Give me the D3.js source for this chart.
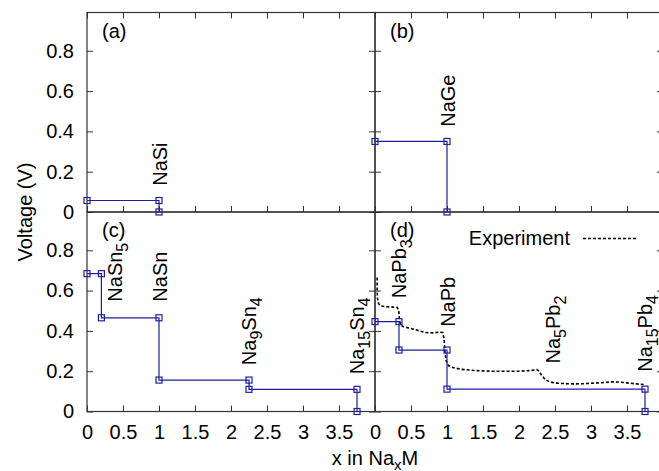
<!DOCTYPE html>
<html>
<head>
<meta charset="utf-8">
<script src="https://cdn.jsdelivr.net/npm/d3@7"></script>
<style>
  html, body { margin: 0; padding: 0; background: #fff; }
  svg { display: block; }
  text { font-family: "Liberation Sans", Arial, Helvetica, sans-serif; fill: #000; }
</style>
</head>
<body>
<svg id="chart" width="659" height="471"></svg>
<script>
// ---------------- data ----------------
const xTickValues = [0, 0.5, 1, 1.5, 2, 2.5, 3, 3.5];
const yTickValues = [0, 0.2, 0.4, 0.6, 0.8];
const xDomain = [0, 4];
const yDomain = [0, 0.99];

// (a) Na-Si
const siX = [0, 1, 1];
const siV = [0.057, 0.057, 0];
// (b) Na-Ge
const geX = [0, 1, 1];
const geV = [0.35, 0.35, 0];
// (c) Na-Sn
const snX = [0, 0.2, 0.2, 1, 1, 2.25, 2.25, 3.75, 3.75];
const snV = [0.684, 0.684, 0.465, 0.465, 0.156, 0.156, 0.11, 0.11, 0];
// (d) Na-Pb
const pbX = [0, 0.333, 0.333, 1, 1, 3.75, 3.75];
const pbV = [0.446, 0.446, 0.305, 0.305, 0.111, 0.111, 0];
// (d) experiment
const expX = [0.03, 0.03, 0.035, 0.05, 0.08, 0.15, 0.25, 0.31, 0.33, 0.34, 0.36, 0.4, 0.5, 0.6, 0.7, 0.8, 0.9, 0.94, 0.96, 0.97, 0.99, 1.02, 1.08, 1.2, 1.4, 1.6, 1.8, 2.0, 2.15, 2.25, 2.28, 2.31, 2.36, 2.42, 2.5, 2.6, 2.75, 2.9, 3.0, 3.15, 3.3, 3.4, 3.5, 3.6, 3.73];
const expV = [0.665, 0.6, 0.56, 0.535, 0.524, 0.52, 0.518, 0.516, 0.5, 0.45, 0.428, 0.42, 0.412, 0.402, 0.392, 0.39, 0.394, 0.392, 0.36, 0.3, 0.25, 0.228, 0.218, 0.209, 0.203, 0.2, 0.2, 0.2, 0.203, 0.208, 0.2, 0.182, 0.16, 0.148, 0.141, 0.139, 0.137, 0.138, 0.14, 0.143, 0.147, 0.146, 0.142, 0.138, 0.134];

// phase labels: text ("_" marks a subscript), x and voltage where the text starts
const siLabels = [{ t: "NaSi", x: 1.0, v: 0.13 }];
const geLabels = [{ t: "NaGe", x: 1.0, v: 0.423 }];
const snLabels = [
  { t: "NaSn_5", x: 0.38, v: 0.545 },
  { t: "NaSn", x: 1.0, v: 0.545 },
  { t: "Na_9Sn_4", x: 2.24, v: 0.23 },
  { t: "Na_15Sn_4", x: 3.74, v: 0.185 }
];
const pbLabels = [
  { t: "NaPb_3", x: 0.32, v: 0.562 },
  { t: "NaPb", x: 1.0, v: 0.42 },
  { t: "Na_5Pb_2", x: 2.47, v: 0.238 },
  { t: "Na_15Pb_4", x: 3.74, v: 0.197 }
];
const panelNames = ["(a)", "(b)", "(c)", "(d)"];
const legendText = "Experiment";
const xLabelMain = "x in Na";
const xLabelSub = "x";
const xLabelEnd = "M";
const yLabelText = "Voltage (V)";

// ---------------- layout ----------------
const L = 87, M = 375, R = 663;
const T = 12.5, MID = 212, B = 411.5;
const BLUE = "#1f1f9c";
const FRAME = "#333";

const svg = d3.select("#chart");

const panels = [
  { x0: L, x1: M, y0: T, y1: MID, xs: siX, vs: siV, labels: siLabels, name: panelNames[0], top: true, left: true },
  { x0: M, x1: R, y0: T, y1: MID, xs: geX, vs: geV, labels: geLabels, name: panelNames[1], top: true, left: false },
  { x0: L, x1: M, y0: MID, y1: B, xs: snX, vs: snV, labels: snLabels, name: panelNames[2], top: false, left: true },
  { x0: M, x1: R, y0: MID, y1: B, xs: pbX, vs: pbV, labels: pbLabels, name: panelNames[3], top: false, left: false, exp: true }
];

function addLabel(g, str, px, py) {
  const t = g.append("text")
    .attr("transform", `translate(${px},${py}) rotate(-90)`)
    .attr("font-size", 20)
    .attr("text-anchor", "start");
  const re = /([^_]+)|_(\d+)/g;
  let m, shifted = false;
  while ((m = re.exec(str)) !== null) {
    if (m[1]) {
      const s = t.append("tspan").text(m[1]);
      if (shifted) { s.attr("dy", -6); shifted = false; }
    } else {
      t.append("tspan").text(m[2]).attr("font-size", 16).attr("dy", 6);
      shifted = true;
    }
  }
}

panels.forEach(p => {
  const x = d3.scaleLinear().domain(xDomain).range([p.x0, p.x1]);
  const y = d3.scaleLinear().domain(yDomain).range([p.y1, p.y0]);
  const g = svg.append("g");

  // bottom axis (ticks inward)
  const bx = g.append("g").attr("transform", `translate(0,${p.y1})`)
    .call(d3.axisBottom(x).tickValues(xTickValues).tickSize(-6).tickPadding(13)
      .tickFormat(p.top ? "" : d3.format("")));
  // left axis
  const ly = g.append("g").attr("transform", `translate(${p.x0},0)`)
    .call(d3.axisLeft(y).tickValues(yTickValues).tickSize(-6).tickPadding(13)
      .tickFormat(p.left ? d3.format("") : ""));
  // right axis
  const ry = g.append("g").attr("transform", `translate(${p.x1},0)`)
    .call(d3.axisRight(y).tickValues(yTickValues).tickSize(-6).tickFormat(""));
  const axes = [bx, ly, ry];
  if (p.top) {
    const tx = g.append("g").attr("transform", `translate(0,${p.y0})`)
      .call(d3.axisTop(x).tickValues(xTickValues).tickSize(-6).tickFormat(""));
    axes.push(tx);
  }
  axes.forEach(a => {
    a.select(".domain").remove();
    a.selectAll(".tick line").attr("stroke", FRAME).attr("stroke-width", 1);
    a.selectAll(".tick text").attr("font-size", 20)
      .attr("font-family", '"Liberation Sans", Arial, Helvetica, sans-serif').attr("fill", "#000");
  });

  // frame
  g.append("rect")
    .attr("x", p.x0).attr("y", p.y0)
    .attr("width", p.x1 - p.x0).attr("height", p.y1 - p.y0)
    .attr("fill", "none").attr("stroke", FRAME).attr("stroke-width", 1.2);

  // experiment curve
  if (p.exp) {
    const pts = expX.map((d, i) => [x(d), y(expV[i])]);
    g.append("path")
      .attr("d", d3.line().curve(d3.curveLinear)(pts))
      .attr("fill", "none").attr("stroke", "#000")
      .attr("stroke-width", 1.6).attr("stroke-dasharray", "3,2");
    // legend
    g.append("text").attr("x", 570).attr("y", 245).attr("font-size", 20)
      .attr("text-anchor", "end").text(legendText);
    g.append("line").attr("x1", 583).attr("x2", 637).attr("y1", 238.5).attr("y2", 238.5)
      .attr("stroke", "#000").attr("stroke-width", 1.6).attr("stroke-dasharray", "3,2");
  }

  // computed voltage step line
  const pts = p.xs.map((d, i) => [x(d), y(p.vs[i])]);
  g.append("path")
    .attr("d", d3.line()(pts))
    .attr("fill", "none").attr("stroke", BLUE).attr("stroke-width", 1.2);
  g.selectAll("rect.pt").data(pts).enter().append("rect")
    .attr("class", "pt")
    .attr("x", d => d[0] - 3).attr("y", d => d[1] - 3)
    .attr("width", 6).attr("height", 6)
    .attr("fill", "none").attr("stroke", BLUE).attr("stroke-width", 1.2);

  // phase labels
  p.labels.forEach(l => addLabel(g, l.t, x(l.x) + 7.5, y(l.v)));

  // panel name
  g.append("text").attr("x", p.x0 + 15).attr("y", p.y0 + 25)
    .attr("font-size", 20).text(p.name);
});

// axis titles
const xt = svg.append("text").attr("x", 375).attr("y", 465)
  .attr("font-size", 20).attr("text-anchor", "middle");
xt.append("tspan").text(xLabelMain);
xt.append("tspan").text(xLabelSub).attr("font-size", 15).attr("dy", 5);
xt.append("tspan").text(xLabelEnd).attr("dy", -5);

svg.append("text")
  .attr("transform", `translate(32,212) rotate(-90)`)
  .attr("font-size", 20).attr("text-anchor", "middle")
  .text(yLabelText);
</script>
</body>
</html>
